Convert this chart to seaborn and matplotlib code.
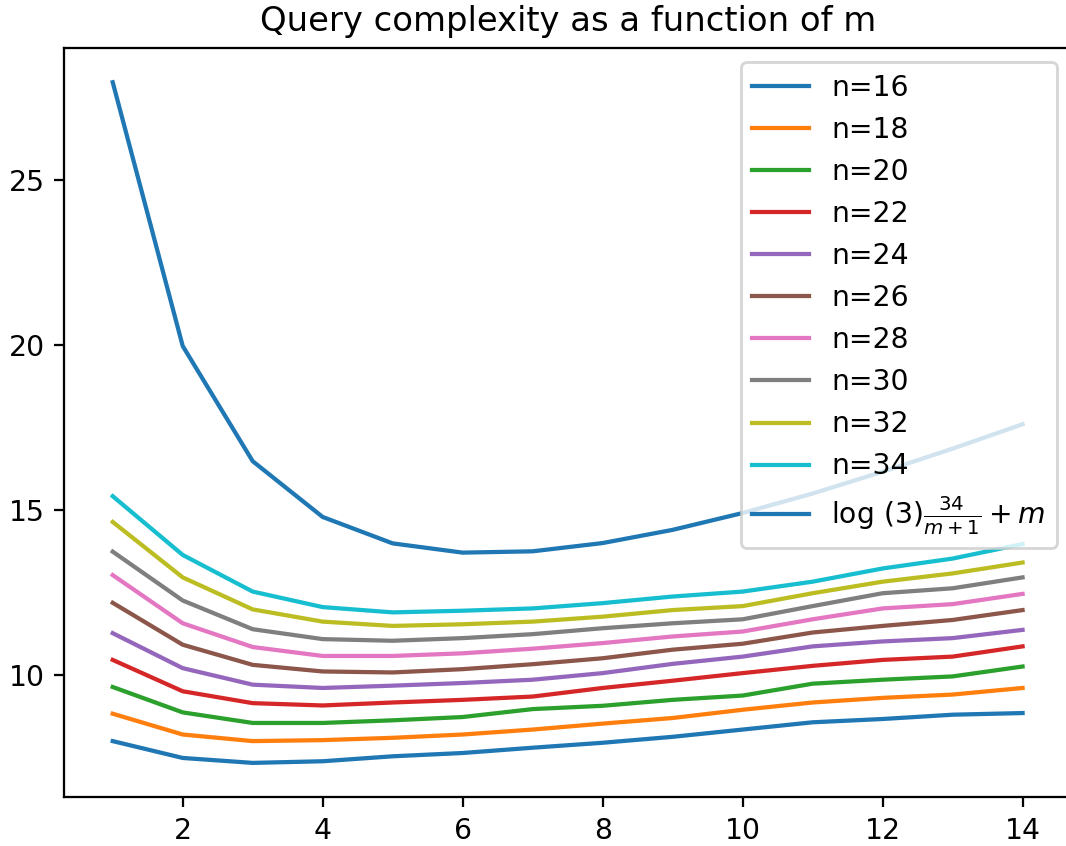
import numpy as np
import pandas as pd
import seaborn as sns
import matplotlib
matplotlib.use("Agg")
import matplotlib.pyplot as plt

#%% data
m_values = list(range(1, 15))
n_labels = ["n=16", "n=18", "n=20", "n=22", "n=24", "n=26", "n=28", "n=30", "n=32", "n=34"]

n16 = [7.99, 7.48, 7.33, 7.38, 7.53, 7.63, 7.79, 7.94, 8.12, 8.34, 8.56, 8.66, 8.79, 8.84]
n18 = [8.82, 8.19, 7.99, 8.02, 8.09, 8.19, 8.34, 8.52, 8.69, 8.94, 9.16, 9.30, 9.40, 9.60]
n20 = [9.63, 8.86, 8.54, 8.54, 8.62, 8.72, 8.96, 9.06, 9.24, 9.37, 9.73, 9.85, 9.95, 10.25]
n22 = [10.45, 9.50, 9.14, 9.07, 9.16, 9.24, 9.34, 9.60, 9.82, 10.05, 10.27, 10.45, 10.55, 10.86]
n24 = [11.26, 10.20, 9.70, 9.60, 9.67, 9.75, 9.85, 10.05, 10.33, 10.55, 10.86, 11.01, 11.11, 11.36]
n26 = [12.18, 10.91, 10.30, 10.10, 10.07, 10.17, 10.32, 10.50, 10.76, 10.94, 11.28, 11.48, 11.66, 11.96]
n28 = [13.02, 11.56, 10.84, 10.57, 10.57, 10.65, 10.79, 10.96, 11.16, 11.31, 11.68, 12.01, 12.14, 12.45]
n30 = [13.73, 12.25, 11.38, 11.08, 11.03, 11.11, 11.23, 11.41, 11.56, 11.68, 12.08, 12.47, 12.62, 12.95]
n32 = [14.63, 12.95, 11.98, 11.61, 11.48, 11.53, 11.61, 11.76, 11.96, 12.08, 12.47, 12.82, 13.07, 13.40]
n34 = [15.41, 13.63, 12.52, 12.05, 11.89, 11.94, 12.01, 12.17, 12.37, 12.52, 12.82, 13.22, 13.52, 13.96]
bound = [27.95, 19.96, 16.47, 14.78, 13.98, 13.70, 13.74, 13.99, 14.39, 14.90, 15.49, 16.15, 16.85, 17.59]

series = [n16, n18, n20, n22, n24, n26, n28, n30, n32, n34]
bound_label = r"$\log\,(3)\frac{34}{m+1}+m$"

DPI = 203


def draw():
    fig = plt.figure(figsize=(1066 / DPI, 846 / DPI), dpi=DPI)
    # right edge of the axes falls just past the image, as in the reference
    ax = fig.add_axes([0.0605, 0.058, 0.944, 0.885])

    colors = sns.color_palette("tab10", 10)
    for lab, vals, c in zip(n_labels, series, colors):
        sns.lineplot(x=m_values, y=vals, label=lab, color=c, ax=ax)
    # the bound curve reuses the first colour
    sns.lineplot(x=m_values, y=bound, label=bound_label, color=colors[0], ax=ax)

    ax.margins(x=0.053)
    ax.spines["right"].set_visible(False)
    ax.set_title("Query complexity as a function of m", fontsize=12)
    ax.set_xticks([2, 4, 6, 8, 10, 12, 14])
    ax.legend(loc="upper right")

    fig.savefig("out.png", dpi=DPI)
    plt.close(fig)


if __name__ == "__main__":
    draw()
